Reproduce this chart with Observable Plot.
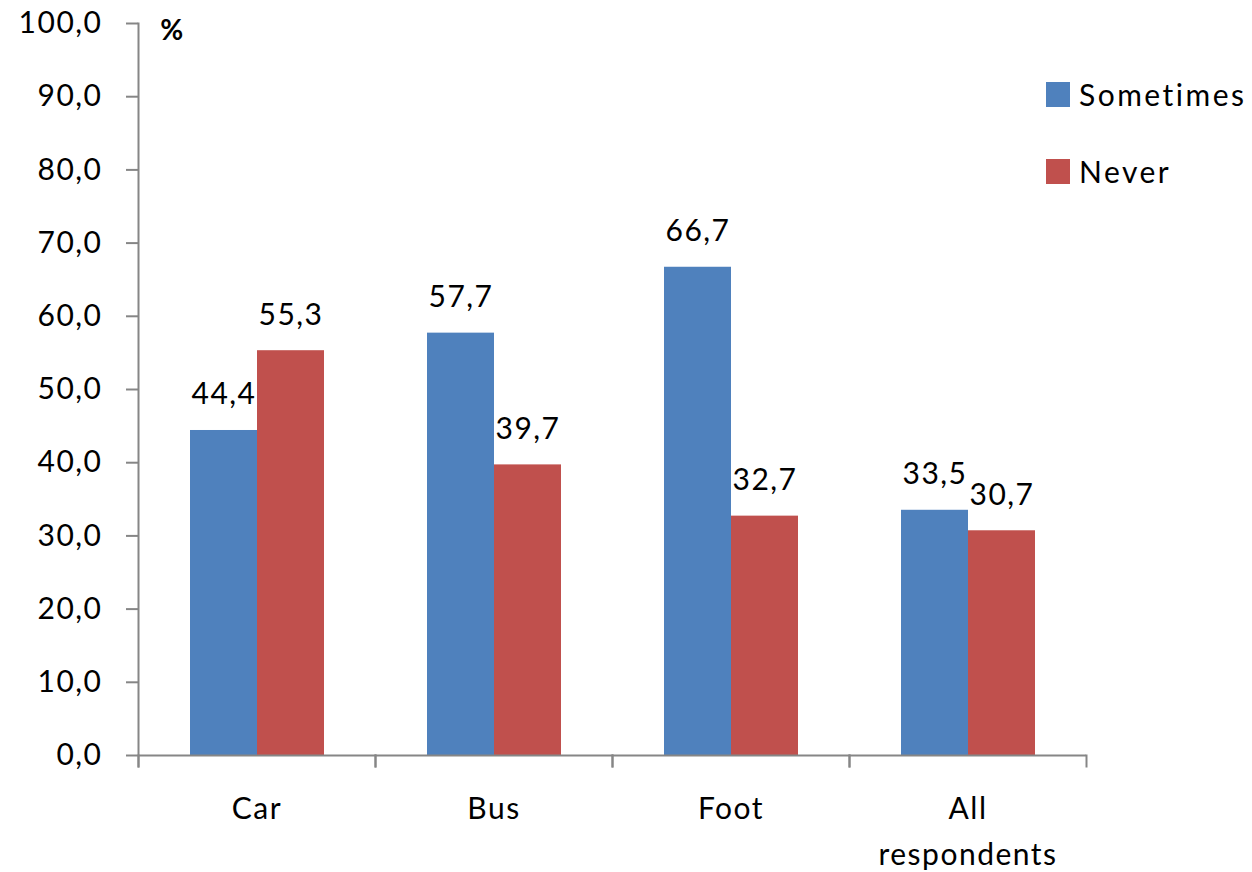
<!DOCTYPE html>
<html>
<head>
<meta charset="utf-8">
<script src="https://cdn.jsdelivr.net/npm/d3@7"></script>
<script src="https://cdn.jsdelivr.net/npm/@observablehq/plot@0.6"></script>
<style>
  html, body { margin: 0; padding: 0; background: #fff; }
  #wrap { position: relative; width: 1252px; height: 872px; font-family: Lato, "Open Sans", sans-serif; }
  .legend { position: absolute; left: 1046px; font-size: 30px; color: #000; display: flex; align-items: center; letter-spacing: 2.5px; }
  .legend span.sw { display: inline-block; width: 24px; height: 25px; margin-right: 9px; }
</style>
</head>
<body>
<div id="wrap"></div>
<script>
const categories = ["Car", "Bus", "Foot", "All respondents"];
const categoryLabels = ["Car", "Bus", "Foot", "All\nrespondents"];
const series = ["Sometimes", "Never"];
const sometimes = [44.4, 57.7, 66.7, 33.5];
const never = [55.3, 39.7, 32.7, 30.7];
const yTicks = [0, 10, 20, 30, 40, 50, 60, 70, 80, 90, 100];
const colors = ["#4F81BD", "#C0504D"];
const unitLabel = "%";

const data = categories.flatMap((c, i) => [
  {cat: c, series: series[0], value: sometimes[i]},
  {cat: c, series: series[1], value: never[i]}
]);
const fmt = v => v.toFixed(1).replace(".", ",");
const gray = "#868686";
const W = 1252, H = 872, MT = 23, MB = 117, ML = 137, MR = 166;
const innerH = H - MT - MB;

const chart = Plot.plot({
  width: W, height: H,
  marginLeft: ML, marginRight: MR, marginTop: MT, marginBottom: MB,
  style: {fontFamily: "Lato, 'Open Sans', sans-serif", fontSize: "30px", color: "#000", background: "#fff", letterSpacing: "1.5px"},
  fx: {domain: categories, padding: 0, axis: null},
  x: {domain: series, paddingInner: 0, paddingOuter: 0.768, axis: null},
  y: {domain: [0, 100], axis: null},
  color: {domain: series, range: colors},
  marks: [
    Plot.barY(data, {fx: "cat", x: "series", y: "value", fill: "series"}),
    Plot.ruleY([0], {stroke: gray, strokeWidth: 2}),
    Plot.frame({anchor: "left", stroke: gray, strokeWidth: 2, insetTop: innerH, insetBottom: -11}),
    Plot.frame({anchor: "right", stroke: gray, strokeWidth: 2, insetTop: innerH, insetBottom: -11}),
    Plot.frame({anchor: "left", facetAnchor: "left", stroke: gray, strokeWidth: 2, insetBottom: -11}),
    Plot.axisY({ticks: yTicks, tickSize: 12, tickPadding: 24, tickFormat: fmt, label: null, stroke: gray, strokeWidth: 2, fill: "#000", fontSize: 30}),
    Plot.text(data, {fx: "cat", x: "series", y: "value", text: d => fmt(d.value), lineAnchor: "bottom", dy: -26, fontSize: 30}),
    Plot.text(categoryLabels, {fx: (d, i) => categories[i], text: d => d, frameAnchor: "bottom", lineAnchor: "top", dy: 30, lineHeight: 1.55, fontSize: 30}),
    Plot.text([unitLabel], {fx: () => categories[0], text: d => d, frameAnchor: "top-left", textAnchor: "middle", lineAnchor: "middle", dx: 34, dy: 8, fontWeight: "bold", fontSize: 28})
  ]
});
const wrap = document.getElementById("wrap");
wrap.appendChild(chart);

// legend overlay
const legendTops = [82, 159];
series.forEach((s, i) => {
  const row = document.createElement("div");
  row.className = "legend";
  row.style.top = (legendTops[i] - 6) + "px";
  const sw = document.createElement("span");
  sw.className = "sw";
  sw.style.background = colors[i];
  row.appendChild(sw);
  row.appendChild(document.createTextNode(s));
  wrap.appendChild(row);
});
</script>
</body>
</html>
